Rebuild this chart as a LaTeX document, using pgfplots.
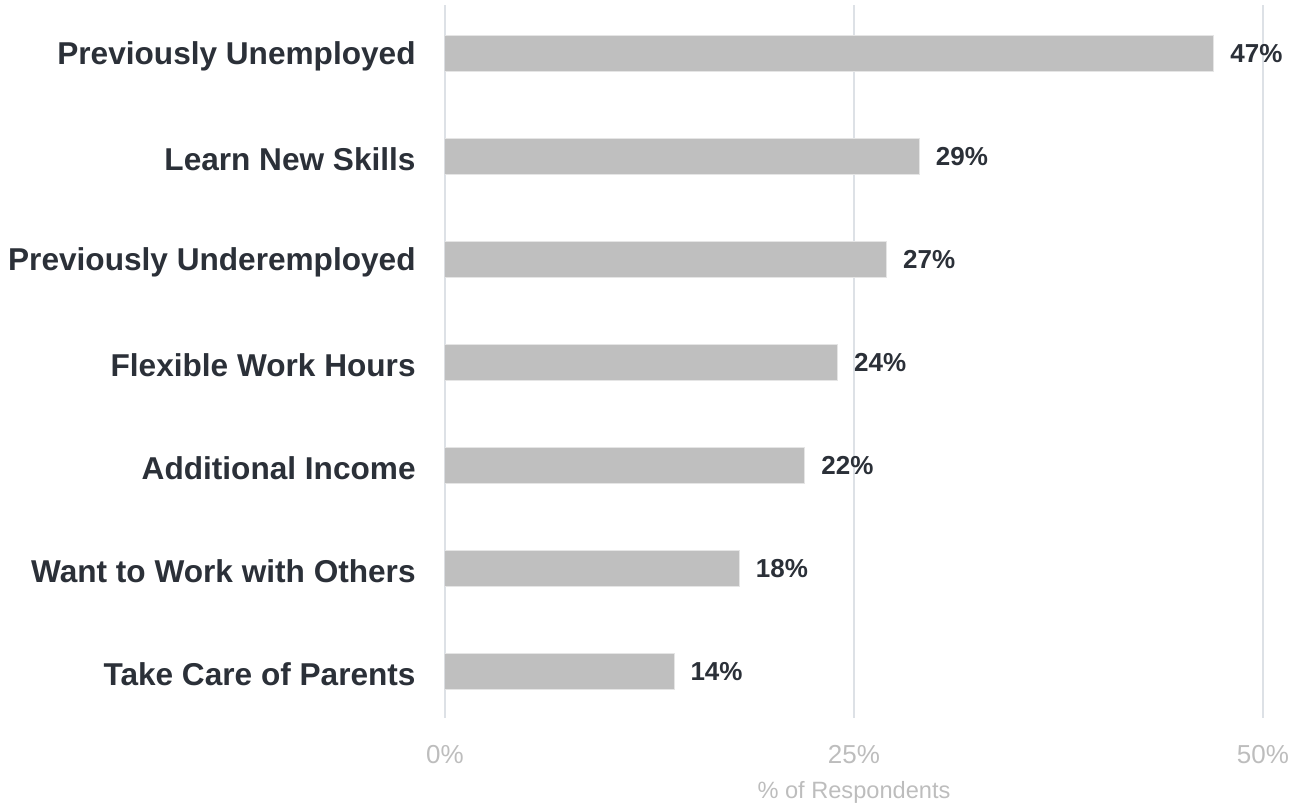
\documentclass[border=0pt]{standalone}
\usepackage{fontspec}
\setmainfont{Liberation Sans}
\usepackage{pgfplots}
\pgfplotsset{compat=1.18}
\definecolor{bargray}{HTML}{BFBFBF}
\definecolor{gridc}{HTML}{DDE1E6}
\definecolor{darktext}{HTML}{2B3038}
\definecolor{ticktext}{HTML}{BDBDBD}
\begin{document}
\begin{tikzpicture}
\begin{axis}[
  at={(0,0)}, anchor=south west,
  scale only axis,
  width=409pt, height=356.5pt,
  /pgf/number format/assume math mode=true,
  xbar,
  bar width=18pt,
  xmin=0, xmax=50,
  ymin=-0.45, ymax=6.47,
  xtick={0,25,50},
  xticklabels={0\%,25\%,50\%},
  ytick={0,1,2,3,4,5,6},
  yticklabels={Take Care of Parents,Want to Work with Others,Additional Income,Flexible Work Hours,Previously Underemployed,Learn New Skills,Previously Unemployed},
  xmajorgrids,
  grid style={draw=gridc, line width=0.6pt},
  axis line style={draw=none},
  major tick length=0pt,
  tick style={draw=none},
  xticklabel style={font=\fontsize{13}{15}\selectfont, text=ticktext, yshift=-10pt},
  yticklabel style={font=\fontsize{15.8}{19}\selectfont\bfseries, text=darktext, inner sep=0pt, xshift=-14.5pt, yshift=-1.5pt},
  xlabel={\% of Respondents},
  xlabel style={font=\fontsize{11.8}{14}\selectfont, text=ticktext, at={(axis description cs:0.5,0)}, anchor=center, yshift=-37pt},
  nodes near coords={\pgfmathprintnumber{\pgfplotspointmeta}\%},
  nodes near coords align=horizontal,
  every node near coord/.append style={font=\fontsize{13}{15}\selectfont\bfseries, text=darktext, inner sep=0pt, anchor=west, xshift=8pt},
]
\addplot[fill=bargray, draw=gray!20, line width=0.5pt] coordinates {
  (14,0) (18,1) (22,2) (24,3) (27,4) (29,5) (47,6)
};
\end{axis}
\pgfresetboundingbox
\path (-222.5pt,-43pt) rectangle (422pt,359pt);
\end{tikzpicture}
\end{document}
